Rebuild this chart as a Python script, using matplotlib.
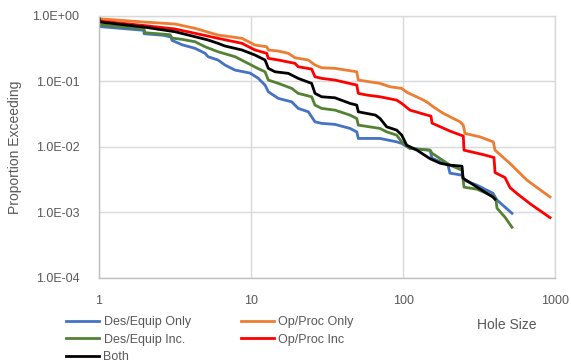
import matplotlib
matplotlib.use("Agg")
import matplotlib.pyplot as plt
from matplotlib.ticker import FixedLocator, FixedFormatter, NullLocator

plt.rcParams['font.family'] = ['Liberation Sans', 'DejaVu Sans']

# ---- data (hole size, proportion exceeding) ----
des_only_size = [1, 1.97, 1.98, 2.66, 2.97, 3.02, 3.51, 4.28, 4.98, 5.21, 6.06, 6.73, 7.84, 9.84, 11.1, 12.35,
                 12.98, 15.1, 18.5, 20.4, 23.8, 25.0, 26.3, 29.1, 35.6, 44.7, 49.5, 50.7, 70.4, 90.6, 97.8,
                 110.8, 150.1, 154.7, 197, 203, 244, 251, 306, 389, 414, 519]
des_only_prop = [0.684, 0.599, 0.531, 0.502, 0.473, 0.421, 0.361, 0.318, 0.267, 0.237, 0.211, 0.177, 0.148,
                 0.1334, 0.1119, 0.0875, 0.0691, 0.0548, 0.0486, 0.0386, 0.0342, 0.0287, 0.0241, 0.0228, 0.0220,
                 0.0191, 0.0169, 0.01343, 0.01343, 0.01192, 0.01127, 0.00945, 0.0089, 0.00672, 0.00526, 0.00397,
                 0.0037, 0.0031, 0.0026, 0.00196, 0.00154, 0.00097]

op_only_size = [1, 1.97, 3.16, 4.28, 6.06, 8.71, 10.61, 12.67, 12.98, 15.1, 17.56, 19.44, 23.8, 26.3, 29.1,
                35.6, 49.5, 50.7, 70.4, 81.9, 97.8, 105.9, 129, 142.7, 157.7, 183.4, 236.3, 248.4, 254.8, 319.8,
                391.2, 401.5, 503.8, 651.6, 923]
op_only_prop = [0.900, 0.801, 0.747, 0.642, 0.507, 0.452, 0.357, 0.336, 0.300, 0.289, 0.267, 0.2285, 0.211,
                0.177, 0.1608, 0.1574, 0.1396, 0.1043, 0.0929, 0.0824, 0.0779, 0.0677, 0.0548, 0.0486, 0.0408,
                0.0324, 0.0241, 0.02145, 0.0160, 0.0142, 0.0119, 0.0089, 0.00558, 0.0031, 0.00172]

des_inc_size = [1, 1.97, 2.01, 2.93, 3.02, 3.51, 4.28, 4.98, 6.06, 7.84, 9.54, 11.1, 12.35, 12.98, 15.1, 18.5,
                20.4, 25.0, 26.3, 29.1, 35.6, 44.7, 49.5, 50.7, 70.4, 77.9, 90.6, 97.8, 110.8, 150.1, 154.7, 203,
                243.6, 251, 305.6, 389.4, 407.4, 413.8, 467, 519]
des_inc_prop = [0.729, 0.633, 0.550, 0.513, 0.456, 0.436, 0.401, 0.336, 0.282, 0.237, 0.1876, 0.1563, 0.1396,
                0.1043, 0.0929, 0.0779, 0.0654, 0.0580, 0.0433, 0.0386, 0.0363, 0.0305, 0.0271, 0.02145, 0.0191,
                0.0169, 0.0151, 0.0119, 0.00945, 0.0089, 0.0080, 0.00526, 0.00441, 0.00243, 0.00226, 0.00177,
                0.00154, 0.00116, 0.000845, 0.000594]

op_inc_size = [1, 1.97, 3.16, 4.28, 6.06, 8.71, 10.61, 12.67, 12.98, 15.1, 19.44, 20.4, 25.0, 26.3, 29.1, 35.6,
               49.5, 50.7, 57.7, 70.4, 90.6, 97.8, 110.8, 143.4, 152.3, 154.7, 203, 248.4, 251, 334.7, 395.4,
               401.5, 467, 503.8, 560, 681.9, 923]
op_inc_prop = [0.830, 0.709, 0.627, 0.539, 0.452, 0.379, 0.300, 0.267, 0.2237, 0.211, 0.1876, 0.1665, 0.1536,
               0.1172, 0.1107, 0.1043, 0.0875, 0.0654, 0.0616, 0.0580, 0.0516, 0.0460, 0.0363, 0.0305, 0.0294,
               0.0230, 0.0174, 0.0146, 0.0089, 0.00763, 0.00687, 0.00405, 0.0034, 0.00239, 0.00194, 0.00136,
               0.000833]

both_size = [1, 1.015, 1.97, 2.52, 3.16, 4.28, 5.21, 6.06, 6.73, 8.71, 10.61, 12.35, 12.98, 14.36, 17.56, 20.4,
             25.0, 26.3, 29.1, 35.6, 44.7, 49.5, 50.7, 65.7, 70.4, 77.9, 90.6, 97.8, 105.4, 123.2, 150.1, 174.6,
             203, 243.6, 247.4, 305.6, 389.4, 401.5]
both_prop = [0.955, 0.801, 0.672, 0.616, 0.570, 0.478, 0.426, 0.379, 0.345, 0.300, 0.251, 0.211, 0.1574, 0.1396,
             0.1320, 0.1107, 0.0929, 0.0654, 0.0580, 0.0560, 0.0460, 0.0433, 0.0342, 0.0305, 0.0271, 0.0202,
             0.0180, 0.0151, 0.0106, 0.0089, 0.0066, 0.00564, 0.00526, 0.00507, 0.00333, 0.00243, 0.00171,
             0.00159]

x_ticks = [1, 10, 100, 1000]
x_tick_labels = ["1", "10", "100", "1000"]
y_ticks = [1e-4, 1e-3, 1e-2, 1e-1, 1e0]
y_tick_labels = ["1.0E-04", "1.0E-03", "1.0E-02", "1.0E-01", "1.0E+00"]

# ---- figure ----
fig = plt.figure(figsize=(5.71, 3.64), dpi=100)
ax = fig.add_axes([99 / 571, 1 - 278 / 364, (555.3 - 99) / 571, (278 - 15.7) / 364])
ax.set_xscale('log')
ax.set_yscale('log')
ax.set_xlim(1, 1000)
ax.set_ylim(1e-4, 1)

lw = 2.0
l_blue, = ax.plot(des_only_size, des_only_prop, color='#4472C4', lw=lw, label='Des/Equip Only')
l_orange, = ax.plot(op_only_size, op_only_prop, color='#ED7D31', lw=lw, label='Op/Proc Only')
l_green, = ax.plot(des_inc_size, des_inc_prop, color='#548235', lw=lw, label='Des/Equip Inc.')
l_red, = ax.plot(op_inc_size, op_inc_prop, color='#FF0000', lw=lw, label='Op/Proc Inc')
l_black, = ax.plot(both_size, both_prop, color='#000000', lw=lw, label='Both')

grid_c = '#d9d9d9'
ax.xaxis.set_major_locator(FixedLocator(x_ticks))
ax.xaxis.set_major_formatter(FixedFormatter(x_tick_labels))
ax.xaxis.set_minor_locator(NullLocator())
ax.yaxis.set_major_locator(FixedLocator(y_ticks))
ax.yaxis.set_major_formatter(FixedFormatter(y_tick_labels))
ax.yaxis.set_minor_locator(NullLocator())
ax.grid(True, which='major', color=grid_c, lw=1.0)
ax.set_axisbelow(True)
for s in ax.spines.values():
    s.set_color(grid_c)
    s.set_linewidth(1.0)
ax.spines['left'].set_color('#bfbfbf')
ax.spines['bottom'].set_color('#bfbfbf')
ax.tick_params(axis='both', length=0, labelsize=9, colors='#595959')
ax.tick_params(axis='x', pad=12)
ax.tick_params(axis='y', pad=14)

fig.text(15 / 571, 1 - 147 / 364, 'Proportion Exceeding', rotation=90, ha='center', va='center',
         fontsize=10, color='#595959')
fig.text(507 / 571, 1 - 325 / 364, 'Hole Size', ha='center', va='center', fontsize=10, color='#595959')

handles = [l_blue, l_green, l_black, l_orange, l_red]
leg = fig.legend(handles=handles, labels=[h.get_label() for h in handles], ncol=2, loc='upper left',
                 bbox_to_anchor=(66 / 571, 1 - 316 / 364), frameon=False, fontsize=9,
                 handlelength=2.65, handletextpad=0.35, columnspacing=4.0, labelspacing=0.45,
                 borderpad=0, borderaxespad=0)
for t in leg.get_texts():
    t.set_color('#595959')

fig.savefig('out.png', dpi=100)
